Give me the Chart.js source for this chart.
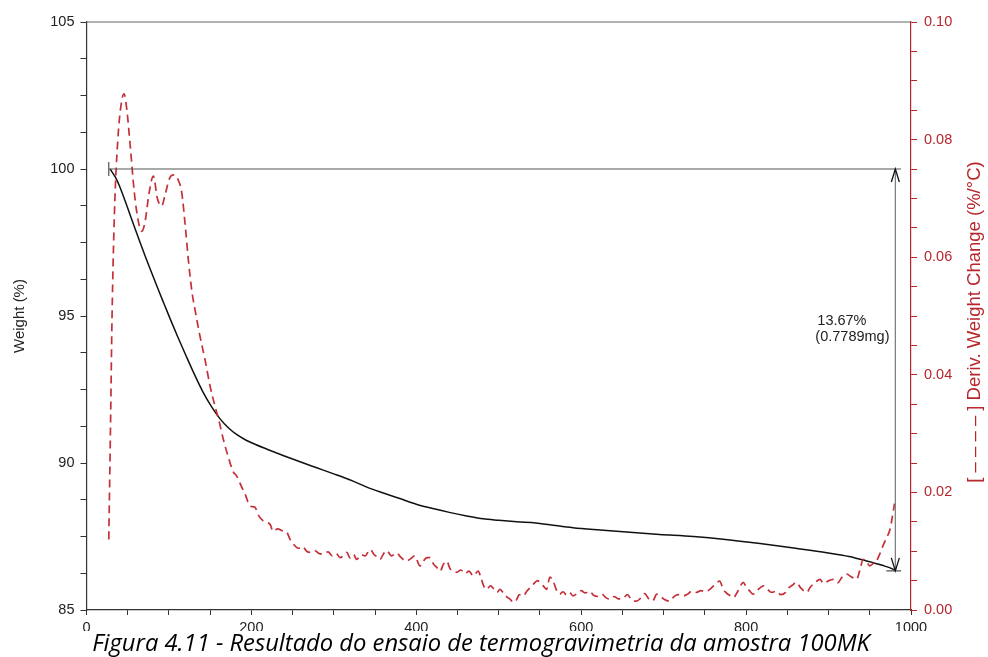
<!DOCTYPE html>
<html>
<head>
<meta charset="utf-8">
<script src="https://cdn.jsdelivr.net/npm/chart.js@4.4.1/dist/chart.umd.min.js"></script>
<style>
  html, body { margin: 0; padding: 0; background: #fff; }
  canvas { display: block; }
</style>
</head>
<body>
<canvas id="tga" width="988" height="657"></canvas>
<script>
// Weight (%) vs temperature (black solid line)
var weightTemp = [28.5, 35, 40, 47, 55, 63, 71, 79, 87, 95, 103, 111, 121, 131.6, 141, 152, 162, 172, 182, 192,
  205, 219, 240, 259, 280, 299, 320, 340, 360, 380, 400, 420, 440, 461, 481, 500, 522, 545, 562, 590,
  623, 655, 695, 736, 775, 817, 860, 898, 925, 946, 965, 978, 981];
var weightPct = [100.0, 99.72, 99.42, 98.9, 98.27, 97.65, 97.05, 96.47, 95.9, 95.35, 94.8, 94.27, 93.63, 92.97, 92.43, 91.9, 91.5, 91.2, 90.97, 90.8,
  90.63, 90.47, 90.24, 90.04, 89.83, 89.64, 89.42, 89.18, 88.98, 88.79, 88.6, 88.45, 88.32, 88.2, 88.1, 88.05, 88.0, 87.96, 87.9, 87.8,
  87.72, 87.65, 87.57, 87.5, 87.4, 87.26, 87.1, 86.95, 86.82, 86.67, 86.52, 86.39, 86.33];

// Deriv. weight change (%/°C) vs temperature (red dashed line)
var derivTemp = [27, 29, 31, 34, 38, 42, 45.5, 49, 53, 58, 63, 67, 71, 76, 81, 86, 91, 96, 101, 106,
  111, 115.5, 120, 123.5, 128, 131.6, 137, 143.7, 150, 155.8, 161, 166, 172, 178, 182, 188, 193, 198, 204, 209,
  214, 218.5, 223, 226, 232, 237, 243, 247, 251, 257, 262, 267, 272, 277, 282, 287, 293, 298, 303, 307.5,
  312, 315.6, 320, 324, 327.7, 333, 338, 344, 349, 353, 356, 360, 364, 370, 376, 381, 388, 393, 398, 404.5,
  409, 413, 416.6, 421, 425, 428.8, 433, 437, 441, 445, 449, 454, 459, 464, 469, 475, 479, 482, 485, 490,
  494, 498, 501.5, 506, 510, 514, 517.7, 521, 525, 530, 534, 538, 542, 547, 550, 554, 558, 562, 566, 570,
  574, 578, 582, 586, 590, 595, 600, 605, 610, 615, 620, 625, 630, 635, 640, 645, 651, 656, 661, 667,
  672, 677, 682, 687, 691.6, 696, 701, 707.7, 712, 717, 724, 729, 734, 740, 745, 751, 756, 762, 768, 772,
  776, 780, 784.5, 790, 796.6, 800, 804, 808.7, 814, 821, 826, 831, 837, 842, 848, 852, 856, 861, 866, 873.5,
  878, 884, 889.6, 894, 899, 905.7, 911, 916, 922, 928, 934, 938, 942, 946, 950, 954, 958, 962, 966, 970,
  974.5, 980];
var derivVal = [0.012, 0.030, 0.050, 0.068, 0.080, 0.086, 0.0878, 0.085, 0.079, 0.071, 0.066, 0.0644, 0.066, 0.071, 0.0738, 0.070, 0.0687, 0.071, 0.0735, 0.074,
  0.0732, 0.071, 0.065, 0.0596, 0.054, 0.0511, 0.047, 0.0426, 0.038, 0.0347, 0.032, 0.029, 0.026, 0.0235, 0.0228, 0.021, 0.0195, 0.0177, 0.0175, 0.016,
  0.0152, 0.0149, 0.0145, 0.0134, 0.0138, 0.0135, 0.0132, 0.012, 0.0112, 0.0105, 0.0108, 0.0100, 0.0098, 0.0101, 0.0096, 0.0095, 0.0099, 0.0092, 0.0096, 0.0089,
  0.0093, 0.0098, 0.0088, 0.0094, 0.0086, 0.0094, 0.0092, 0.0103, 0.0094, 0.0090, 0.0086, 0.0095, 0.0101, 0.0092, 0.0097, 0.0090, 0.0083, 0.0087, 0.0092, 0.0075,
  0.0084, 0.0089, 0.0089, 0.0078, 0.0072, 0.0066, 0.0078, 0.0083, 0.0070, 0.0067, 0.0064, 0.0068, 0.0062, 0.0066, 0.0058, 0.0066, 0.0052, 0.0040, 0.0035, 0.0041,
  0.0036, 0.0030, 0.0035, 0.0028, 0.0022, 0.0018, 0.0013, 0.0016, 0.0026, 0.0024, 0.0032, 0.0038, 0.0044, 0.0050, 0.0047, 0.0041, 0.0035, 0.0056, 0.0049, 0.0034,
  0.0027, 0.0031, 0.0026, 0.0030, 0.0024, 0.0028, 0.0033, 0.0029, 0.0032, 0.0025, 0.0023, 0.0027, 0.0021, 0.0018, 0.0023, 0.0019, 0.0020, 0.0026, 0.0017, 0.0015,
  0.0020, 0.0028, 0.0019, 0.0016, 0.0027, 0.0023, 0.0018, 0.0015, 0.0022, 0.0026, 0.0024, 0.0027, 0.0032, 0.0030, 0.0033, 0.0031, 0.0035, 0.0043, 0.0049, 0.0036,
  0.0029, 0.0025, 0.0021, 0.0032, 0.0047, 0.0039, 0.0033, 0.0027, 0.0034, 0.0041, 0.0035, 0.0030, 0.0032, 0.0026, 0.0030, 0.0038, 0.0042, 0.0047, 0.0038, 0.0030,
  0.0039, 0.0047, 0.0052, 0.0045, 0.0049, 0.0052, 0.0046, 0.0055, 0.0061, 0.0056, 0.0052, 0.0068, 0.0086, 0.0082, 0.0075, 0.0079, 0.0083, 0.0095, 0.0109, 0.0122,
  0.0137, 0.0181];

// tick labels
var xLabels = [0, 200, 400, 600, 800, 1000];
var weightLabels = [85, 90, 95, 100, 105];
var derivLabels = [0.00, 0.02, 0.04, 0.06, 0.08, 0.10];

// weight step marker
var stepStartTemp = 27, stepEndTemp = 988, stepTemp = 981;
var stepTop = 100, stepBottom = 86.33;
var stepText = ['13.67%', '(0.7789mg)'];

var caption = 'Figura 4.11 - Resultado do ensaio de termogravimetria da amostra 100MK';

var RED = '#b8262c';
var FONT = "'Liberation Sans', Arial, sans-serif";

function pts(xs, ys) {
  return xs.map(function (x, i) { return { x: x, y: ys[i] }; });
}
function hasLabel(list, v) {
  return list.some(function (l) { return Math.abs(l - v) < 1e-7; });
}

var extras = {
  id: 'extras',
  afterDatasetsDraw: function (chart) {
    var ctx = chart.ctx, a = chart.chartArea;
    var x = chart.scales.x, y = chart.scales.y;
    ctx.save();
    // top frame line
    ctx.strokeStyle = '#666';
    ctx.lineWidth = 1.2;
    ctx.beginPath();
    ctx.moveTo(a.left, a.top);
    ctx.lineTo(a.right, a.top);
    ctx.stroke();

    // step annotation
    var x0 = x.getPixelForValue(stepStartTemp), x1 = x.getPixelForValue(stepEndTemp);
    var xs = x.getPixelForValue(stepTemp);
    var yt = y.getPixelForValue(stepTop), yb = y.getPixelForValue(stepBottom);
    ctx.strokeStyle = '#555';
    ctx.lineWidth = 1.2;
    ctx.beginPath();
    ctx.moveTo(x0, yt); ctx.lineTo(x1, yt);
    ctx.moveTo(x0, yt - 7); ctx.lineTo(x0, yt + 7);
    ctx.moveTo(xs - 9, yb); ctx.lineTo(x1, yb);
    ctx.stroke();
    ctx.strokeStyle = '#777';
    ctx.beginPath();
    ctx.moveTo(xs, yt); ctx.lineTo(xs, yb);
    ctx.stroke();
    ctx.strokeStyle = '#111';
    ctx.lineWidth = 1.3;
    ctx.beginPath();
    ctx.moveTo(xs - 4, yt + 13); ctx.lineTo(xs, yt); ctx.lineTo(xs + 4, yt + 13);
    ctx.moveTo(xs - 4, yb - 13); ctx.lineTo(xs, yb); ctx.lineTo(xs + 4, yb - 13);
    ctx.stroke();

    ctx.fillStyle = '#222';
    ctx.font = '14.5px ' + FONT;
    ctx.textAlign = 'left';
    ctx.textBaseline = 'alphabetic';
    ctx.fillText(stepText[0], xs - 78, 325);
    ctx.fillText(stepText[1], xs - 80, 341);

    // axis titles
    ctx.textAlign = 'center';
    ctx.textBaseline = 'middle';
    ctx.font = '15px ' + FONT;
    ctx.fillStyle = '#222';
    ctx.save();
    ctx.translate(20, 316);
    ctx.rotate(-Math.PI / 2);
    ctx.fillText('Weight (%)', 0, 0);
    ctx.restore();
    ctx.font = '18.5px ' + FONT;
    ctx.fillStyle = RED;
    ctx.save();
    ctx.translate(975, 322);
    ctx.rotate(-Math.PI / 2);
    ctx.fillText('[ – – – – ] Deriv. Weight Change (%/°C)', 0, 0);
    ctx.restore();
    ctx.restore();
  },
  afterDraw: function (chart) {
    var ctx = chart.ctx;
    ctx.save();
    ctx.fillStyle = '#fff';
    ctx.fillRect(0, 631, chart.width, chart.height - 631);
    var size = 20;
    ctx.font = 'italic ' + size + "px 'Open Sans', sans-serif";
    size = size * 778 / ctx.measureText(caption).width;
    ctx.font = 'italic ' + size.toFixed(2) + "px 'Open Sans', sans-serif";
    ctx.fillStyle = '#000';
    ctx.textAlign = 'center';
    ctx.textBaseline = 'alphabetic';
    ctx.fillText(caption, 481, 651);
    ctx.restore();
  }
};

new Chart(document.getElementById('tga'), {
  type: 'scatter',
  data: {
    datasets: [{
      label: 'Deriv. Weight Change',
      data: pts(derivTemp, derivVal),
      yAxisID: 'y2',
      showLine: true,
      borderColor: '#c4303a',
      borderWidth: 1.7,
      borderDash: [8, 5],
      pointRadius: 0,
      cubicInterpolationMode: 'monotone'
    }, {
      label: 'Weight',
      data: pts(weightTemp, weightPct),
      yAxisID: 'y',
      showLine: true,
      borderColor: '#111',
      borderWidth: 1.5,
      pointRadius: 0,
      cubicInterpolationMode: 'monotone'
    }]
  },
  options: {
    responsive: false,
    animation: false,
    layout: { padding: { top: 22, left: 0, right: 0, bottom: 0 } },
    plugins: { legend: { display: false }, tooltip: { enabled: false } },
    scales: {
      x: {
        type: 'linear', min: 0, max: 1000,
        afterFit: function (s) { s.height = 47; },
        border: { color: '#333', width: 1.2 },
        grid: { drawOnChartArea: false, drawTicks: true, tickLength: 5, tickColor: '#333' },
        ticks: {
          stepSize: 50, autoSkip: false, maxRotation: 0, padding: 4,
          color: '#222', font: { family: FONT, size: 14.5 },
          callback: function (v) { return hasLabel(xLabels, v) ? String(v) : ''; }
        }
      },
      y: {
        type: 'linear', position: 'left', min: 85, max: 105,
        afterFit: function (s) { s.width = 86.5; },
        border: { color: '#333', width: 1.2 },
        grid: { drawOnChartArea: false, drawTicks: true, tickLength: 6, tickColor: '#333' },
        ticks: {
          stepSize: 1.25, autoSkip: false, padding: 6,
          color: '#222', font: { family: FONT, size: 14.5 },
          callback: function (v) { return hasLabel(weightLabels, v) ? String(v) : ''; }
        }
      },
      y2: {
        type: 'linear', position: 'right', min: 0, max: 0.1,
        afterFit: function (s) { s.width = 77; },
        border: { color: RED, width: 1.2 },
        grid: { drawOnChartArea: false, drawTicks: true, tickLength: 6, tickColor: RED },
        ticks: {
          stepSize: 0.005, autoSkip: false, padding: 7,
          color: RED, font: { family: FONT, size: 14.5 },
          callback: function (v) { return hasLabel(derivLabels, v) ? v.toFixed(2) : ''; }
        }
      }
    }
  },
  plugins: [extras]
});
</script>
</body>
</html>
